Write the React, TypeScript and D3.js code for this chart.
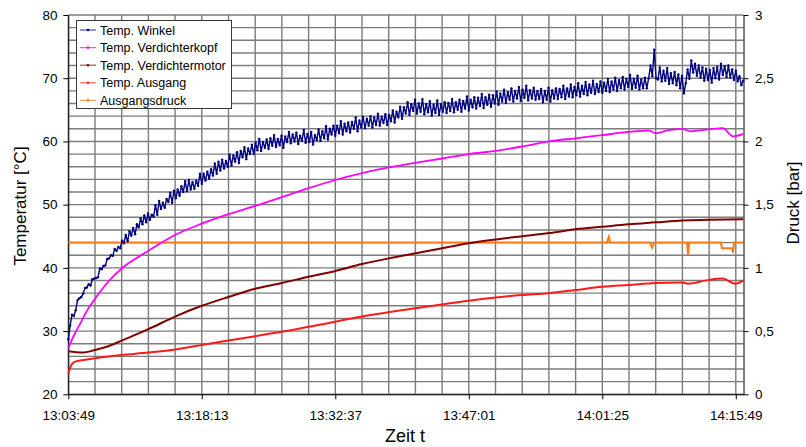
import React, { useEffect, useRef } from 'react';
import * as d3 from 'd3';

// time in minutes after 13:03:49
const timeTicks = [0, 14.4, 28.8, 43.2, 57.6, 72];
const timeLabels = ['13:03:49', '13:18:13', '13:32:37', '13:47:01', '14:01:25', '14:15:49'];
const timeEnd = 72.83;
const gridStepMin = 2.88;

const tempTicks = [20, 30, 40, 50, 60, 70, 80];
const pressTicks = [0, 0.5, 1, 1.5, 2, 2.5, 3];
const pressLabels = ['0', '0,5', '1', '1,5', '2', '2,5', '3'];

// Temp. Winkel, one sample every 0.2 min (noisy sensor)
const winkelStep = 0.2;
const winkelTemp = [
  28.7, 30.9, 32.6, 32.4, 33.3, 34.9, 35.2, 35.4, 35.9, 36.8,
  36.9, 37.4, 37.2, 38.2, 38.3, 38.4, 38.5, 39.9, 39.8, 40.3,
  40.4, 41.4, 41.5, 42.0, 41.9, 43.0, 42.7, 43.3, 43.1, 44.3,
  43.9, 45.2, 44.2, 45.8, 45.1, 46.3, 45.3, 46.9, 46.4, 47.8,
  46.9, 48.3, 47.2, 48.6, 47.6, 48.4, 48.1, 49.9, 48.4, 50.6,
  49.3, 50.3, 49.5, 50.9, 50.4, 51.9, 50.3, 52.2, 51.0, 52.4,
  51.4, 52.9, 52.0, 53.7, 52.1, 53.9, 52.4, 53.6, 52.5, 53.8,
  53.0, 54.9, 53.3, 54.9, 53.8, 55.2, 54.1, 55.6, 54.6, 56.5,
  54.9, 56.8, 55.4, 57.1, 55.7, 56.9, 56.0, 57.9, 56.2, 57.8,
  56.8, 58.3, 56.6, 58.5, 57.5, 59.1, 57.2, 58.9, 58.0, 59.5,
  58.0, 59.8, 58.6, 60.4, 58.5, 59.9, 59.0, 60.3, 58.8, 60.5,
  59.3, 61.0, 59.1, 60.4, 59.4, 60.9, 59.0, 60.8, 59.9, 61.5,
  59.7, 61.1, 60.0, 61.4, 59.6, 60.9, 60.1, 61.8, 59.8, 61.2,
  59.9, 61.5, 59.5, 61.0, 60.2, 61.9, 60.1, 61.6, 60.5, 62.4,
  60.3, 62.0, 61.1, 62.5, 60.9, 62.5, 61.3, 63.2, 61.1, 62.8,
  61.6, 63.0, 61.4, 63.1, 62.0, 63.8, 61.6, 63.3, 62.2, 63.9,
  62.1, 63.6, 62.5, 64.0, 62.2, 63.8, 62.6, 64.4, 62.5, 63.9,
  62.9, 64.3, 62.6, 64.2, 63.2, 64.9, 63.0, 64.7, 63.8, 65.5,
  63.6, 65.4, 64.4, 66.2, 64.2, 65.9, 64.8, 66.6, 64.4, 66.0,
  64.7, 66.7, 64.3, 65.9, 64.6, 66.4, 64.1, 65.8, 64.5, 66.5,
  64.2, 65.9, 64.7, 66.2, 64.5, 66.1, 64.8, 66.7, 64.6, 66.2,
  65.0, 66.6, 64.7, 66.4, 65.2, 67.1, 64.9, 66.6, 65.4, 67.0,
  65.2, 66.9, 65.6, 67.5, 65.3, 67.0, 65.8, 67.4, 65.5, 67.3,
  66.0, 67.9, 65.8, 67.6, 66.3, 68.2, 66.1, 67.8, 66.6, 68.4,
  66.3, 68.0, 66.8, 68.6, 66.4, 68.2, 66.9, 68.8, 66.5, 68.1,
  66.8, 68.5, 66.6, 68.0, 66.7, 68.3, 66.2, 68.0, 66.6, 68.5,
  66.3, 68.1, 66.8, 68.4, 66.7, 68.3, 67.0, 68.8, 66.7, 68.4,
  67.1, 69.0, 67.0, 68.6, 67.3, 69.2, 67.1, 68.8, 67.5, 69.4,
  67.3, 69.0, 67.7, 69.6, 67.5, 69.1, 67.8, 69.5, 67.7, 69.3,
  68.0, 69.9, 67.8, 69.5, 68.2, 70.1, 68.0, 69.7, 68.4, 70.2,
  68.2, 69.9, 68.6, 70.5, 68.3, 69.9, 68.5, 70.4, 68.2, 69.8,
  68.4, 70.1, 68.4, 70.0, 72.0, 70.3, 74.5, 70.0, 69.8, 71.7,
  69.5, 71.2, 69.6, 71.6, 69.1, 70.8, 69.2, 71.0, 68.9, 70.6,
  68.4, 70.4, 67.6, 69.2, 71.4, 69.9, 72.8, 70.9, 72.3, 70.4,
  72.0, 70.1, 71.7, 69.6, 71.5, 69.7, 71.3, 69.3, 71.6, 70.0,
  71.8, 69.8, 72.3, 70.5, 71.9, 70.2, 72.0, 70.1, 71.4, 69.7,
  71.2, 69.5, 70.3, 68.9, 69.6,
];

const kopfTime = [0, 0.6, 1.26, 2.0, 2.88, 4.3, 5.76, 7.2, 8.64, 10.08, 11.52, 14.4, 17.28, 20.16, 23.04, 25.92, 28.8, 31.68, 34.56, 37.44, 40.32, 43.2, 46.08, 48.96, 51.84, 54.72, 57.6, 60.48, 62.6, 63.4, 64.5, 66.24, 67.1, 69.1, 70.6, 71.7, 72.8];
const kopfTemp = [27.3, 29.3, 31.1, 33.2, 35.1, 37.8, 39.9, 41.4, 42.7, 44.0, 45.2, 47.0, 48.5, 49.8, 51.2, 52.6, 53.9, 55.0, 55.9, 56.6, 57.3, 58.0, 58.5, 59.2, 60.0, 60.5, 61.0, 61.5, 61.7, 61.3, 61.7, 62.0, 61.6, 61.9, 62.1, 60.8, 61.2];

const motorTime = [0, 1.5, 2.88, 4.32, 5.76, 8.64, 11.52, 14.4, 17.28, 20.16, 23.04, 25.92, 28.8, 31.68, 34.56, 37.44, 40.32, 43.2, 46.08, 48.96, 51.84, 54.72, 57.6, 60.48, 63.36, 66.24, 69.12, 72.8];
const motorTemp = [26.8, 26.6, 27.0, 27.6, 28.5, 30.3, 32.3, 34.0, 35.4, 36.7, 37.6, 38.6, 39.5, 40.6, 41.5, 42.3, 43.1, 43.9, 44.5, 45.0, 45.5, 46.1, 46.5, 46.9, 47.2, 47.5, 47.6, 47.7];

const ausgangTime = [0, 0.15, 0.4, 0.8, 2.0, 5.76, 8.64, 11.52, 14.4, 17.28, 20.16, 23.04, 27.1, 31.7, 37.4, 43.2, 48.9, 51.84, 54.72, 57.6, 60.48, 63.36, 66.2, 66.85, 69.1, 70.6, 71.9, 72.8];
const ausgangTemp = [23.2, 24.0, 24.8, 25.2, 25.5, 26.2, 26.6, 27.1, 27.8, 28.5, 29.2, 29.9, 31.0, 32.3, 33.6, 34.8, 35.7, 36.0, 36.5, 37.0, 37.3, 37.6, 37.7, 37.5, 38.1, 38.3, 37.5, 38.0];

const druckTime = [0, 58.1, 58.3, 58.45, 62.75, 62.97, 63.2, 66.74, 66.85, 66.96, 70.4, 70.5, 71.6, 71.7, 71.8, 72.8];
const druckBar = [1.2, 1.2, 1.245, 1.2, 1.2, 1.16, 1.2, 1.2, 1.1, 1.2, 1.2, 1.155, 1.155, 1.12, 1.2, 1.2];

const legendNames = ['Temp. Winkel', 'Temp. Verdichterkopf', 'Temp. Verdichtermotor', 'Temp. Ausgang', 'Ausgangsdruck'];
const seriesColors = ['#000080', '#ff00ff', '#800000', '#ff1a1a', '#ff7a12'];

const FONT = '"Liberation Sans", Arial, sans-serif';

export default function App() {
  const ref = useRef<SVGSVGElement>(null);

  useEffect(() => {
    const svg = d3.select(ref.current);
    svg.selectAll('*').remove();

    const left = 68.3, right = 743.5, top = 15, bottom = 394.3;
    const x = d3.scaleLinear().domain([0, timeEnd]).range([left, right]);
    const yT = d3.scaleLinear().domain([20, 80]).range([bottom, top]);
    const yP = d3.scaleLinear().domain([0, 3]).range([bottom, top]);

    // grid
    const grid = svg.append('g').attr('stroke', '#7c7c7c').attr('stroke-width', 1.4);
    grid
      .selectAll('line.h')
      .data(d3.range(20, 80.1, 2))
      .enter()
      .append('line')
      .attr('x1', left)
      .attr('x2', right)
      .attr('y1', (d) => yT(d))
      .attr('y2', (d) => yT(d));
    grid
      .selectAll('line.v')
      .data(d3.range(0, 72.1, gridStepMin))
      .enter()
      .append('line')
      .attr('x1', (d) => x(d))
      .attr('x2', (d) => x(d))
      .attr('y1', top)
      .attr('y2', bottom);

    // axes
    const styleAxis = (g: any) => {
      g.select('.domain').attr('stroke', '#000');
      g.selectAll('.tick line').attr('stroke', '#000');
      g.selectAll('text').attr('font-family', FONT).attr('font-size', '13.5px').attr('fill', '#000');
    };
    svg
      .append('g')
      .attr('transform', `translate(${left},0)`)
      .call(d3.axisLeft(yT).tickValues(tempTicks).tickSize(5).tickSizeOuter(0).tickPadding(5.8))
      .call(styleAxis);
    svg
      .append('g')
      .attr('transform', `translate(${right},0)`)
      .call(
        d3
          .axisRight(yP)
          .tickValues(pressTicks)
          .tickFormat((d, i) => pressLabels[i])
          .tickSize(5)
          .tickSizeOuter(0)
          .tickPadding(6.5)
      )
      .call(styleAxis);
    svg
      .append('g')
      .attr('transform', `translate(0,${bottom})`)
      .call(
        d3
          .axisBottom(x)
          .tickValues(timeTicks)
          .tickFormat((d, i) => timeLabels[i])
          .tickSize(5)
          .tickSizeOuter(0)
          .tickPadding(11)
      )
      .call(styleAxis);

    // titles
    svg
      .append('text')
      .attr('transform', 'translate(25.5,206) rotate(-90)')
      .attr('text-anchor', 'middle')
      .attr('font-family', FONT)
      .attr('font-size', '17px')
      .text('Temperatur [°C]');
    svg
      .append('text')
      .attr('transform', 'translate(799,203) rotate(-90)')
      .attr('text-anchor', 'middle')
      .attr('font-family', FONT)
      .attr('font-size', '17px')
      .text('Druck [bar]');
    svg
      .append('text')
      .attr('x', 405)
      .attr('y', 441.5)
      .attr('text-anchor', 'middle')
      .attr('font-family', FONT)
      .attr('font-size', '18px')
      .text('Zeit t');

    // series
    const plot = svg.append('g');
    const zip = (t: number[], v: number[]) => t.map((tt, i) => [tt, v[i]] as [number, number]);

    const pLine = d3
      .line<[number, number]>()
      .x((d) => x(d[0]))
      .y((d) => yP(d[1]));
    plot
      .append('path')
      .attr('d', pLine(zip(druckTime, druckBar)))
      .attr('fill', 'none')
      .attr('stroke', seriesColors[4])
      .attr('stroke-width', 2);

    const tLine = d3
      .line<[number, number]>()
      .x((d) => x(d[0]))
      .y((d) => yT(d[1]));
    const smooth = d3
      .line<[number, number]>()
      .x((d) => x(d[0]))
      .y((d) => yT(d[1]))
      .curve(d3.curveMonotoneX);

    // noisy series: thin line plus a small marker on every sample, as the logger chart does
    const winkel = winkelTemp.map((v, i) => [i * winkelStep, v] as [number, number]);
    plot
      .append('path')
      .attr('d', tLine(winkel))
      .attr('fill', 'none')
      .attr('stroke', seriesColors[0])
      .attr('stroke-width', 1.4)
      .attr('stroke-linejoin', 'round');
    plot
      .append('g')
      .selectAll('circle')
      .data(winkel)
      .enter()
      .append('circle')
      .attr('cx', (d) => x(d[0]))
      .attr('cy', (d) => yT(d[1]))
      .attr('r', 1.2)
      .attr('fill', seriesColors[0]);

    [
      [kopfTime, kopfTemp, 1.8],
      [motorTime, motorTemp, 2],
      [ausgangTime, ausgangTemp, 2],
    ].forEach(([t, v, w], i) => {
      plot
        .append('path')
        .attr('d', smooth(zip(t as number[], v as number[])))
        .attr('fill', 'none')
        .attr('stroke', seriesColors[i + 1])
        .attr('stroke-width', w as number);
    });

    // legend
    const lg = svg.append('g');
    lg.append('rect')
      .attr('x', 76.5)
      .attr('y', 20.5)
      .attr('width', 155)
      .attr('height', 88)
      .attr('fill', '#fff')
      .attr('stroke', '#3a3a3a');
    legendNames.forEach((name, i) => {
      const ly = 30 + i * 17.6;
      lg.append('line')
        .attr('x1', 80)
        .attr('x2', 96)
        .attr('y1', ly)
        .attr('y2', ly)
        .attr('stroke', seriesColors[i])
        .attr('stroke-width', 1.2)
        .attr('opacity', 0.7);
      lg.append('circle').attr('cx', 88).attr('cy', ly).attr('r', 1.3).attr('fill', seriesColors[i]);
      lg.append('text')
        .attr('x', 100)
        .attr('y', ly)
        .attr('dy', '0.36em')
        .attr('font-family', FONT)
        .attr('font-size', '12.5px')
        .text(name);
    });
  }, []);

  return (
    <svg
      ref={ref}
      width={806}
      height={447}
      style={{ position: 'absolute', left: 0, top: 0, background: '#fff' }}
    />
  );
}
